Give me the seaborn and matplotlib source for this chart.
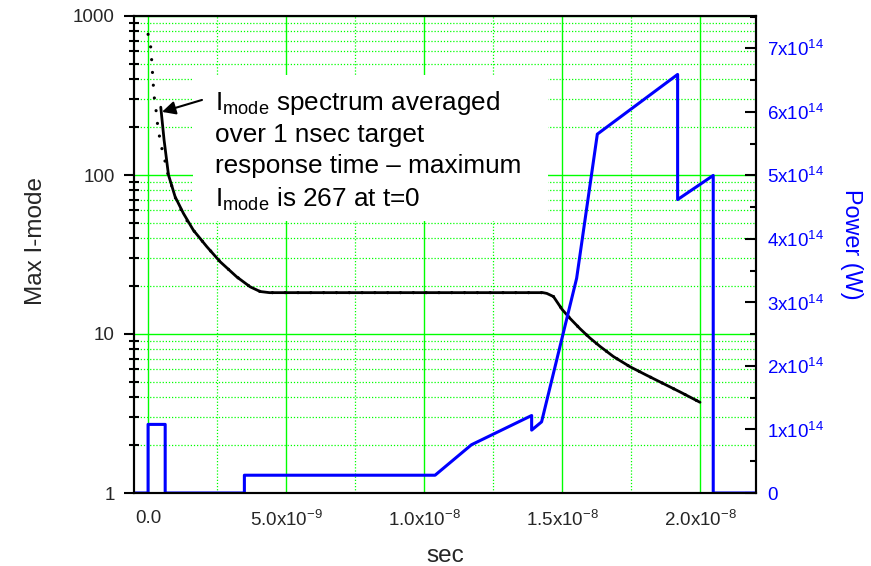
import numpy as np
import matplotlib
matplotlib.use("Agg")
import matplotlib.pyplot as plt
from matplotlib.ticker import MultipleLocator, LogLocator, NullFormatter
from matplotlib.patches import Rectangle
import seaborn as sns

# ---- data -------------------------------------------------------------
# Max I-mode averaged over 1 ns target response time (time in ns)
avg_t_ns = [0.46, 0.58, 0.74, 0.98, 1.28, 1.64, 2.13, 2.61, 3.21, 3.70, 4.06,
            4.40, 14.31, 14.45, 14.69, 15.00, 15.29, 15.65, 16.01, 16.38,
            16.86, 17.46, 18.07, 18.67, 19.28, 20.00]
avg_imode = [267, 166, 100, 73, 57.4, 45, 35.4, 28.5, 22.9, 19.8, 18.5,
             18.2, 18.2, 18.0, 17.2, 14.3, 12.54, 10.81, 9.44, 8.35,
             7.22, 6.23, 5.50, 4.88, 4.32, 3.72]

# Instantaneous max I-mode (time in ns)
raw_t_ns = [0.00, 0.10, 0.13, 0.16, 0.19, 0.23, 0.29, 0.34, 0.41, 0.50, 0.62,
            0.72, 0.87, 1.01, 1.26, 1.52, 2.13, 2.61, 3.21, 3.70, 4.06, 4.40,
            14.31, 14.45, 14.69, 15.00, 15.29, 15.65, 16.01, 16.38, 16.86,
            17.46, 18.07, 18.67, 19.28, 20.00, 20.20]
raw_imode = [767, 632, 528, 440, 368, 302, 254, 211, 176, 147, 121,
             101, 84, 70, 57.4, 47.7, 35.4, 28.5, 22.9, 19.8, 18.5, 18.2,
             18.2, 18.0, 17.2, 14.3, 12.54, 10.81, 9.44, 8.35, 7.22,
             6.23, 5.50, 4.88, 4.32, 3.72, 3.54]

# Laser power (time in ns, power in W)
power_t_ns = [-0.5, 0.00, 0.00, 0.62, 0.62, 3.49, 3.49, 10.40, 11.72, 13.90,
              13.90, 14.26, 15.53, 16.28, 19.19, 19.19, 20.48, 20.48, 22.10]
power_w = [0, 0, 1.08e14, 1.08e14, 0, 0, 0.28e14, 0.28e14, 0.76e14, 1.22e14,
           0.99e14, 1.12e14, 3.38e14, 5.65e14, 6.59e14, 4.62e14, 5.0e14, 0, 0]

x_tick_values = [0, 5e-9, 1e-8, 1.5e-8, 2e-8]
x_tick_labels = ["0.0", "5.0x10$^{-9}$", "1.0x10$^{-8}$", "1.5x10$^{-8}$",
                 "2.0x10$^{-8}$"]
left_tick_values = [1, 10, 100, 1000]
left_tick_labels = ["1", "10", "100", "1000"]
right_tick_values = [0, 1e14, 2e14, 3e14, 4e14, 5e14, 6e14, 7e14]
right_tick_labels = ["0"] + [f"{k}x10$^{{14}}$" for k in range(1, 8)]

note_lines = ["I$_{\\mathregular{mode}}$ spectrum averaged",
              "over 1 nsec target",
              "response time \u2013 maximum",
              "I$_{\\mathregular{mode}}$ is 267 at t=0"]

NS = 1e-9
avg_t = np.array(avg_t_ns) * NS
raw_t = np.array(raw_t_ns) * NS
power_t = np.array(power_t_ns) * NS

# ---- style ------------------------------------------------------------
sns.set_style("white")
plt.rcParams["font.family"] = ["Liberation Sans", "DejaVu Sans"]
plt.rcParams["mathtext.fontset"] = "custom"
plt.rcParams["mathtext.rm"] = "Liberation Sans"
plt.rcParams["mathtext.it"] = "Liberation Sans:italic"
plt.rcParams["mathtext.bf"] = "Liberation Sans:bold"
plt.rcParams["mathtext.sf"] = "Liberation Sans"

GREEN = "#00ff00"
BLUE = "#0000ff"

fig = plt.figure(figsize=(8.71, 5.66), dpi=100, facecolor="white")
ax = fig.add_axes([134 / 871, 1 - 493 / 566, 622 / 871, 477 / 566])
ax.set_yscale("log")

# ---- I-mode curves (left, log axis) -----------------------------------
sns.lineplot(x=raw_t, y=raw_imode, ax=ax, color="black", lw=2.3,
             linestyle=(0, (0.01, 4.0)), dash_capstyle="round",
             sort=False, estimator=None, zorder=2)
sns.lineplot(x=avg_t, y=avg_imode, ax=ax, color="black", lw=2.0,
             sort=False, estimator=None, zorder=3)

ax.set_xlim(-0.51e-9, 22.03e-9)
ax.set_ylim(1, 1000)

ax.set_xticks(x_tick_values, labels=x_tick_labels)
ax.xaxis.set_minor_locator(MultipleLocator(2.5e-9))
ax.set_yticks(left_tick_values, labels=left_tick_labels)
ax.yaxis.set_minor_locator(LogLocator(base=10, subs=np.arange(2, 10)))
ax.yaxis.set_minor_formatter(NullFormatter())

ax.tick_params(axis="x", which="major", direction="out", length=5, width=1.5,
               labelsize=13.5, pad=7, top=False, color="black")
ax.tick_params(axis="x", which="minor", direction="out", length=3.6,
               width=1.5, top=False, color="black")
ax.tick_params(axis="y", which="major", direction="out", length=7, width=1.5,
               labelsize=13.5, pad=7, right=False, color="black")
ax.tick_params(axis="y", which="minor", direction="inout", length=7,
               width=1.5, right=False, color="black")

ax.set_axisbelow(True)
ax.grid(True, which="major", color=GREEN, lw=1.0, ls="-")
ax.grid(True, which="minor", color=GREEN, lw=0.9, ls=(0, (1, 1.5)))

ax.set_xlabel("sec", fontsize=17.5, va="baseline")
ax.xaxis.set_label_coords(0.5, -0.1445)
ax.set_ylabel("Max I-mode", fontsize=17.5)
ax.yaxis.set_label_coords(-0.1400, 0.528)

for s in ax.spines.values():
    s.set_linewidth(1.5)
    s.set_color("black")

# ---- annotation box ---------------------------------------------------
ax.add_patch(Rectangle((0.0949, 0.570), 0.5707, 0.306, transform=ax.transAxes,
                       facecolor="white", edgecolor="none", zorder=1))
for line, yb in zip(note_lines, [0.803, 0.736, 0.670, 0.600]):
    ax.text(0.130, yb, line, transform=ax.transAxes, fontsize=18.8,
            va="baseline", ha="left", color="black", zorder=4)
ax.annotate("", xy=(0.045, 0.799), xytext=(0.1093, 0.824),
            xycoords="axes fraction", textcoords="axes fraction",
            arrowprops=dict(arrowstyle="-|>", color="black", lw=1.5,
                            mutation_scale=20, shrinkA=0, shrinkB=0),
            zorder=5)

# ---- power curve (right, linear axis) ----------------------------------
ax2 = ax.twinx()
sns.lineplot(x=power_t, y=power_w, ax=ax2, color=BLUE, lw=2.2,
             sort=False, estimator=None)
ax2.set_xlim(-0.51e-9, 22.03e-9)
ax2.set_ylim(0, 7.51e14)
ax2.set_yticks(right_tick_values, labels=right_tick_labels)
ax2.yaxis.set_minor_locator(MultipleLocator(0.5e14))
ax2.tick_params(axis="y", which="major", direction="in", length=8, width=1.5,
                labelsize=13.5, labelcolor=BLUE, pad=8, color="black")
ax2.tick_params(axis="y", which="minor", direction="in", length=4.3,
                width=1.5, color="black")
ax2.set_ylabel("Power (W)", fontsize=16.8, color=BLUE, rotation=270,
               va="center", ha="center")
ax2.yaxis.set_label_coords(1.154, 0.522)
ax2.grid(False)
for s in ax2.spines.values():
    s.set_linewidth(1.5)
    s.set_color("black")

fig.savefig("out.png", dpi=100)
